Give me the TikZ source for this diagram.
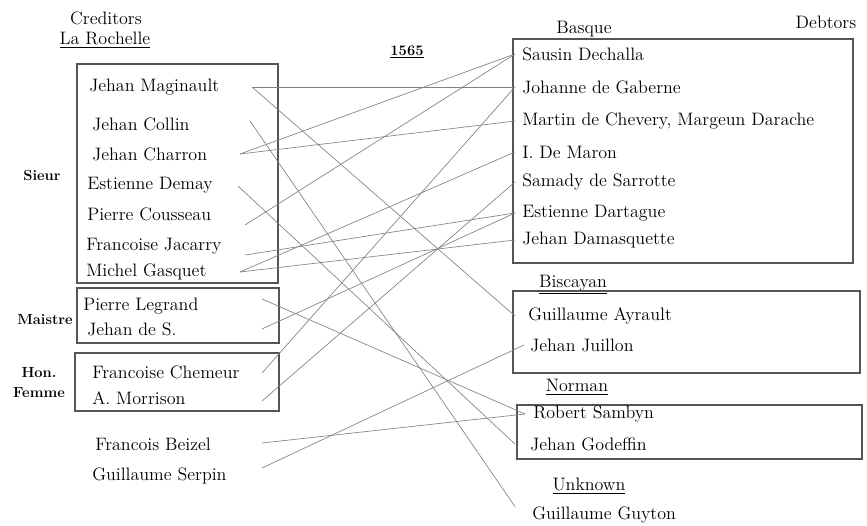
\documentclass[tikz,border=0pt]{standalone}
\usepackage{tikz}
\usetikzlibrary{calc}
\definecolor{linkgray}{RGB}{130,130,130}
\definecolor{boxgray}{RGB}{85,85,85}

\begin{document}
\begin{tikzpicture}[x=0.75pt,y=-0.75pt,
    creditor/.style={anchor=west,inner sep=0pt,font=\fontsize{13.5}{16}\selectfont},
    debtor/.style={anchor=west,inner ysep=0pt,inner xsep=#1,font=\fontsize{13.5}{16}\selectfont},
    debtor/.default=5.25pt,
    headline/.style={inner sep=0pt,font=\fontsize{13.5}{16}\selectfont},
    rank/.style={inner sep=0pt,align=center,font=\bfseries\fontsize{11}{15}\selectfont},
    groupbox/.style={draw=boxgray,line width=0.9pt},
    link/.style={draw=linkgray,line width=0.5pt}]
    \useasboundingbox (0,0) rectangle (867,525);
    % headings
    \node[headline] (cred) at (106,18) {Creditors};
    \node[headline] (roch) at (105,40) {\underline{La Rochelle}};
    \node[rank] (year) at (407,52) {\underline{1565}};
    \node[headline] (debt) at (826,22) {Debtors};
    \node[headline] (basq) at (584,30) {\underline{Basque}};
    \node[headline] (bisc) at (573,285) {\underline{Biscayan}};
    \node[headline] (norm) at (577,387) {\underline{Norman}};
    \node[headline] (unkn) at (589,486) {\underline{Unknown}};
    \node[rank] (sieur) at (42,175) {Sieur};
    \node[rank] (mais) at (45,320) {Maistre};
    \node[rank] (hon) at (39,383) {Hon.\\Femme};
    % group frames
    \draw[groupbox] (77,64) rectangle (278,283);
    \draw[groupbox] (77,288) rectangle (279,343);
    \draw[groupbox] (75,353) rectangle (279,411);
    \draw[groupbox] (513,39) rectangle (853,263);
    \draw[groupbox] (513,291) rectangle (860,373);
    \draw[groupbox] (517,405) rectangle (862,459);
    % creditors
    \foreach \n/\x/\y/\t in {mag/89/87/Jehan Maginault, col/92/124/Jehan Collin,
        cha/92/154/Jehan Charron, dem/87/185/Estienne Demay,
        cou/87/214/Pierre Cousseau, jac/86/246/Francoise Jacarry,
        gas/86/272/Michel Gasquet, leg/83/306/Pierre Legrand,
        jds/87/329/Jehan de S., che/92/372/Francoise Chemeur,
        mor/92/398/A. Morrison, bei/95/444/Francois Beizel,
        ser/92/476/Guillaume Serpin}
    \node[creditor] (\n) at (\x,\y) {\t};
    \foreach \n/\x/\y in {mag/252/87, col/250/121, cha/240/154, dem/238/186,
        cou/245/225, jac/245/255, gas/240/272, leg/262/299, jds/262/329,
        che/262/373, mor/262/401, bei/262/443, ser/262/468}
    \coordinate (\n-e) at (\x,\y);
    % debtors
    \foreach \n/\y/\t in {sau/54/Sausin Dechalla, joh/87/Johanne de Gaberne,
        mar/121/{Martin de Chevery, Margeun Darache}, imr/152/I. De Maron,
        sam/182/Samady de Sarrotte, esd/213/Estienne Dartague,
        jdm/240/Jehan Damasquette}
    \node[debtor] (\n) at (515,\y) {\t};
    \node[debtor=9.75pt] (ayr) at (515,316) {Guillaume Ayrault};
    \node[debtor=4.5pt] (jui) at (524,345) {Jehan Juillon};
    \node[debtor=6pt] (rob) at (525,414) {Robert Sambyn};
    \node[debtor=11.25pt] (god) at (515,444) {Jehan Godeffin};
    \node[debtor=12.75pt] (guy) at (515,515) {Guillaume Guyton};
    % debts
    \foreach \a/\b in {mag-e/joh.west, mag-e/ayr.west, col-e/guy.north west,
        cha-e/sau.west, cha-e/mar.west, dem-e/god.west, cou-e/sau.west,
        jac-e/esd.west, gas-e/imr.west, gas-e/jdm.west, leg-e/rob.west,
        jds-e/esd.west, che-e/joh.west, mor-e/sam.west, bei-e/rob.west,
        ser-e/jui.west}
    \draw[link] (\a) -- (\b);
\end{tikzpicture}
\end{document}
